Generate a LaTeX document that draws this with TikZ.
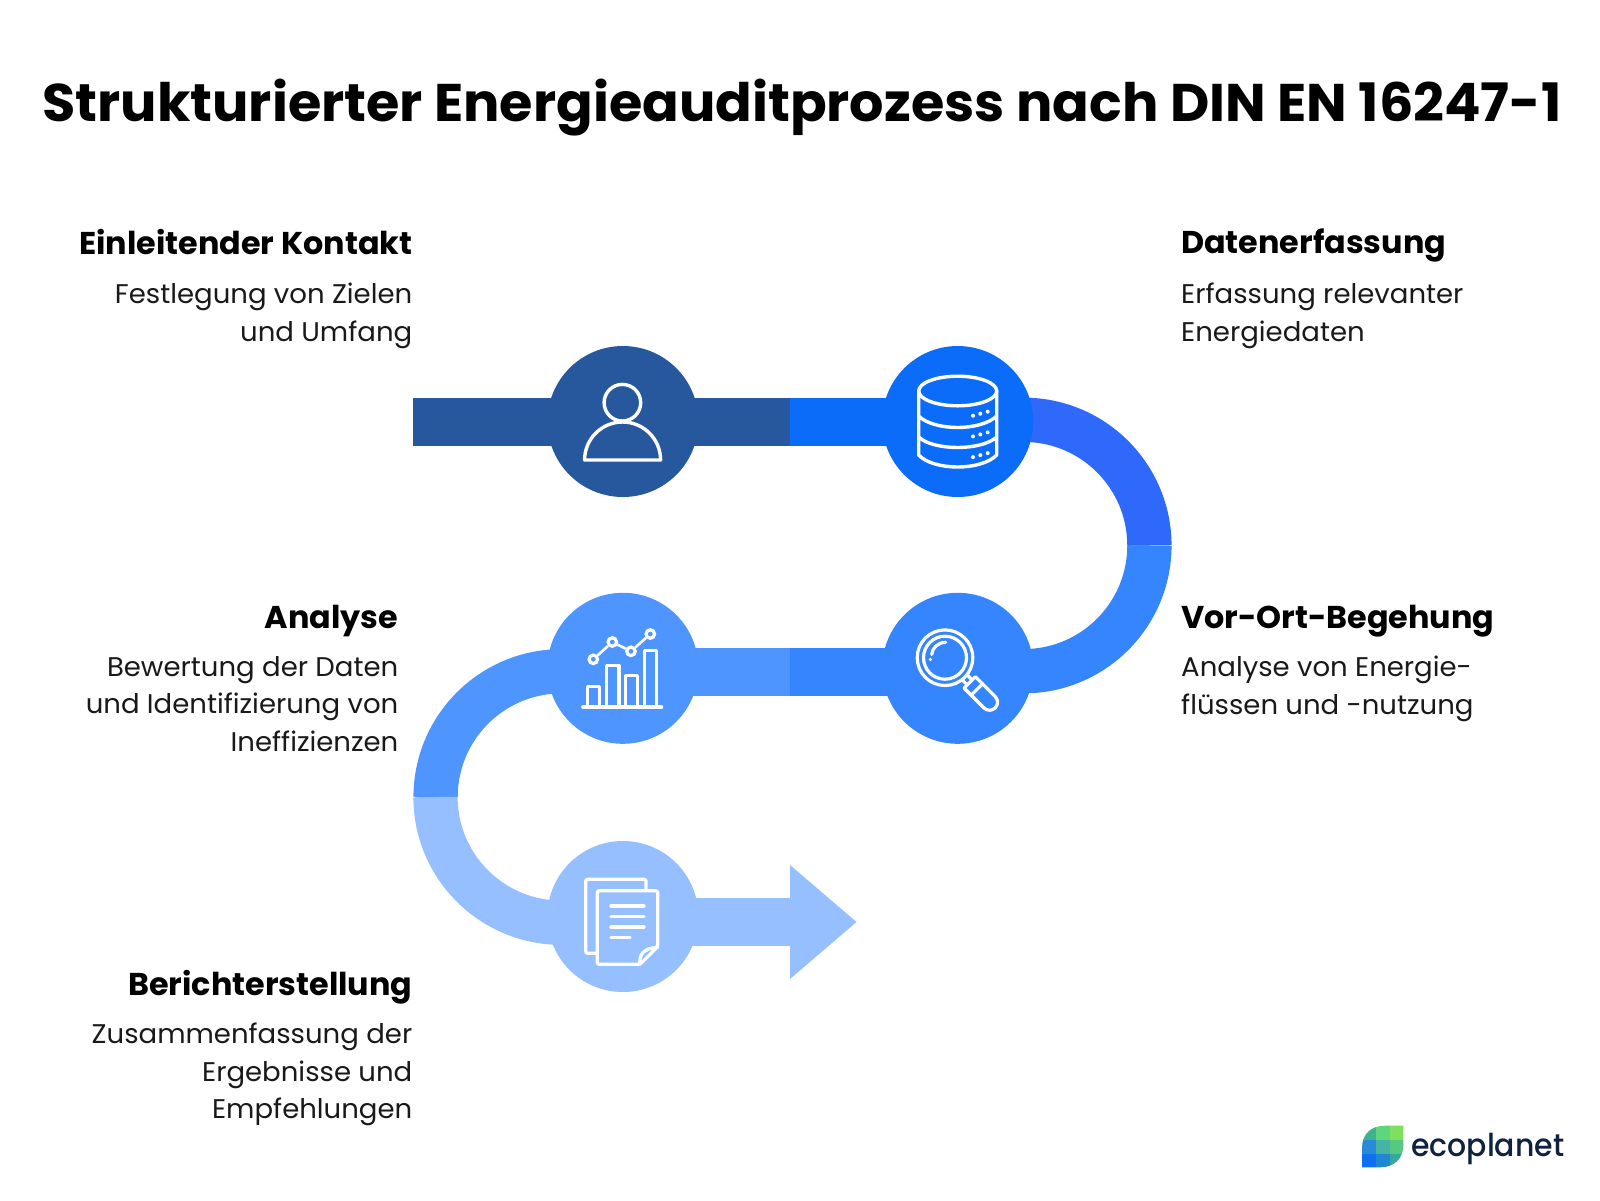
\documentclass[tikz,border=0pt]{standalone}
\usepackage{fontspec}
\setmainfont[FakeStretch=1.02]{Poppins}
\newfontfamily\titlefont[FakeStretch=1.02]{Poppins}
\newfontfamily\headfont[FakeStretch=1.01]{Poppins}
\newfontfamily\logofont[FakeStretch=0.95]{Poppins Medium}
\usetikzlibrary{calc}
\definecolor{cOne}{HTML}{27589E}
\definecolor{cTwo}{HTML}{0B6CF9}
\definecolor{cArc}{HTML}{2E69FC}
\definecolor{cThree}{HTML}{3585FF}
\definecolor{cFour}{HTML}{4E95FF}
\definecolor{cFive}{HTML}{96BFFF}
\definecolor{logoText}{HTML}{0F2240}
\tikzset{
  stepdot/.style={circle,minimum size=151pt,inner sep=0pt,fill=#1},
  band/.style={line width=48pt,draw=#1},
  curve/.style={line width=44.3pt,draw=#1},
  icon/.style={draw=white,line width=3.4pt,line join=round,line cap=round},
  head/.style={anchor=north,inner sep=0pt,font=\headfont\bfseries\fontsize{31.5}{38}\selectfont,text=black},
  bodyr/.style={anchor=north east,inner sep=0pt,align=right,font=\fontsize{27}{37.7}\selectfont,text=black!90},
  bodyl/.style={anchor=north west,inner sep=0pt,align=left,font=\fontsize{27}{37.7}\selectfont,text=black!90},
  chartdot/.style={circle,draw=white,line width=3.2pt,inner sep=0pt,minimum size=8.5pt},
}
\begin{document}
\begin{tikzpicture}[x=1pt,y=-1pt]
\useasboundingbox (0,0) rectangle (1600,1200);
\fill[white] (0,0) rectangle (1600,1200);

\node[anchor=base,inner sep=0pt,font=\titlefont\bfseries\fontsize{53}{60}\selectfont] (title) at (802,121) {Strukturierter Energieauditprozess nach DIN EN 16247-1};

% track
\coordinate (start) at (413,421.6);
\coordinate (splitA) at (789.7,421.6);
\coordinate (arcTop) at (1023.7,419.8);
\coordinate (arcMid) at (1149.4,545.5);
\coordinate (splitB) at (789.7,672.3);
\coordinate (arcTopL) at (561.3,671.3);
\coordinate (arcMidL) at (435.5,797);
\coordinate (barStart) at (620,922);
\coordinate (arrowBase) at (790,922);
\coordinate (arrowTip) at (856.5,922);

\draw[band=cOne] (start) -- (splitA);
\draw[band=cTwo] (splitA) -- (957,421.6);
\draw[curve=cArc] (arcTop) arc[start angle=-90,end angle=0,radius=125.7];
\draw[curve=cThree] (arcMid) arc[start angle=0,end angle=90,radius=125.7];
\draw[band=cThree] (splitB) -- ++(168,0);
\draw[band=cFour] (splitB) -- ++(-170,0);
\draw[curve=cFour] (arcTopL) arc[start angle=-90,end angle=-180,radius=125.7];
\draw[curve=cFive] (arcMidL) arc[start angle=180,end angle=90,radius=125.7];
\draw[band=cFive] (barStart) -- (arrowBase);
\fill[cFive] (790,865) -- (arrowTip) -- (790,979) -- cycle;

% circles
\node[stepdot=cOne] (n1) at (622.9,421.5) {};
\node[stepdot=cTwo] (n2) at (957.7,421.5) {};
\node[stepdot=cThree] (n3) at (957.7,668.3) {};
\node[stepdot=cFour] (n4) at (622.9,668.3) {};
\node[stepdot=cFive] (n5) at (622.9,916.5) {};

% person icon
\draw[icon] (622.4,402.7) circle[radius=18.3];
\draw[icon] (584.6,460) arc[start angle=180,end angle=360,radius=38] -- cycle;

% database icon
\begin{scope}[icon]
\draw (957.7,391) ellipse[x radius=39,y radius=14.8];
\draw (918.7,391) -- (918.7,455) .. controls (926,463) and (942,467) .. (957.7,467) .. controls (973,467) and (989,463) .. (996.7,455) -- (996.7,391);
\draw (918.7,416) .. controls (926,423.5) and (942,427.5) .. (957.7,427.5) .. controls (973,427.5) and (989,423.5) .. (996.7,416);
\draw (918.7,437) .. controls (926,444) and (942,447.5) .. (957.7,447.5) .. controls (973,447.5) and (989,444) .. (996.7,437);
\end{scope}
\foreach \dy in {0,20.7,41.4}{
  \fill[white] (973,415.7+\dy) circle[radius=2] (980.3,413.7+\dy) circle[radius=2] (987.7,411.7+\dy) circle[radius=2];
}

% magnifier icon
\begin{scope}[icon,line width=3.2pt]
\draw (945,657.7) circle[radius=27.8];
\draw (945,657.7) circle[radius=21.5];
\draw (945.7,642.3) .. controls (938,642.3) and (932,648) .. (931.7,654.5);
\fill[white,draw=none] (930.3,659.5) circle[radius=1.8];
\begin{scope}[shift={(945,657.7)},rotate=-45]
\draw (28,-3.5) -- (35,-3.5) (28,3.5) -- (35,3.5);
\draw (35,-8) -- (63,-8) arc[start angle=-90,end angle=90,radius=8] -- (35,8) -- cycle;
\draw (45,-8) -- (45,8);
\end{scope}
\end{scope}

% chart icon
\begin{scope}[icon,line width=3.2pt]
\draw (582.7,707) -- (661.7,707);
\draw (587.5,707) -- (587.5,686.7) -- (599.3,686.7) -- (599.3,707);
\draw (606.7,707) -- (606.7,665.7) -- (619,665.7) -- (619,707);
\draw (625.3,707) -- (625.3,675.7) -- (637.3,675.7) -- (637.3,707);
\draw (644.3,707) -- (644.3,650.7) -- (656.7,650.7) -- (656.7,707);
\end{scope}
\node[chartdot] (p1) at (593.3,659.3) {};
\node[chartdot] (p2) at (612.3,642) {};
\node[chartdot] (p3) at (631,651.3) {};
\node[chartdot] (p4) at (650.3,634) {};
\draw[white,line width=2.6pt] (p1) -- (p2);
\draw[white,line width=2.6pt] (p2) -- (p3);
\draw[white,line width=2.6pt] (p3) -- (p4);

% document icon
\begin{scope}[icon,line width=3.3pt,rounded corners=2pt]
\draw (646,890.7) -- (646,879.3) -- (585.7,879.3) -- (585.7,953.3) -- (597.3,953.3);
\draw (640,964.3) -- (597.3,964.3) -- (597.3,890.7) -- (657.7,890.7) -- (657.7,946.7) -- cycle;
\end{scope}
\begin{scope}[icon,line width=3.3pt]
\draw (640,964.3) .. controls (639,955) and (643,948) .. (657.7,947.5);
\draw (611,906) -- (644,906) (611,916.3) -- (644,916.3) (611,927) -- (644,927) (611,937.3) -- (630,937.3);
\end{scope}

% labels
\node[head,anchor=north east] (h1) at (412.5,229) {Einleitender Kontakt};
\node[bodyr] (b1) at (412.5,283) {Festlegung von Zielen\\und Umfang};
\node[head,anchor=north west] (h2) at (1181,229) {Datenerfassung};
\node[bodyl] (b2) at (1181,283) {Erfassung relevanter\\Energiedaten};
\node[head,anchor=north east] (h4) at (398.5,605) {Analyse};
\node[bodyr] (b4) at (398.5,656) {Bewertung der Daten\\und Identifizierung von\\Ineffizienzen};
\node[head,anchor=north west] (h3) at (1181,605) {Vor-Ort-Begehung};
\node[bodyl] (b3) at (1181,656) {Analyse von Energie-\\flüssen und -nutzung};
\node[head,anchor=north east] (h5) at (412.5,970) {Berichterstellung};
\node[bodyr] (b5) at (412.5,1022.5) {Zusammenfassung der\\Ergebnisse und\\Empfehlungen};

% logo
\begin{scope}
\clip (1362,1167.3) -- (1362,1148) .. controls (1362,1134) and (1371,1125.7) .. (1385,1125.7) -- (1403.3,1125.7) -- (1403.3,1145) .. controls (1403.3,1159) and (1394,1167.3) .. (1380,1167.3) -- cycle;
\fill[fill={rgb,255:red,63;green,177;blue,143}] (1362,1125) rectangle (1376,1139.5);
\fill[fill={rgb,255:red,95;green,214;blue,126}] (1376,1125) rectangle (1390,1139.5);
\fill[fill={rgb,255:red,127;green,224;blue,96}] (1390,1125) rectangle (1404,1139.5);
\fill[fill={rgb,255:red,43;green,138;blue,216}] (1362,1139.5) rectangle (1376,1153.5);
\fill[fill={rgb,255:red,69;green,179;blue,165}] (1376,1139.5) rectangle (1390,1153.5);
\fill[fill={rgb,255:red,85;green,201;blue,127}] (1390,1139.5) rectangle (1404,1153.5);
\fill[fill={rgb,255:red,15;green,111;blue,240}] (1362,1153.5) rectangle (1376,1168);
\fill[fill={rgb,255:red,32;green,136;blue,208}] (1376,1153.5) rectangle (1390,1168);
\fill[fill={rgb,255:red,53;green,168;blue,155}] (1390,1153.5) rectangle (1404,1168);
\end{scope}
\node[anchor=base west,inner sep=0pt,text=logoText,font=\logofont\fontsize{31.5}{36}\selectfont] (logo) at (1411,1156) {ecoplanet};
\end{tikzpicture}
\end{document}
